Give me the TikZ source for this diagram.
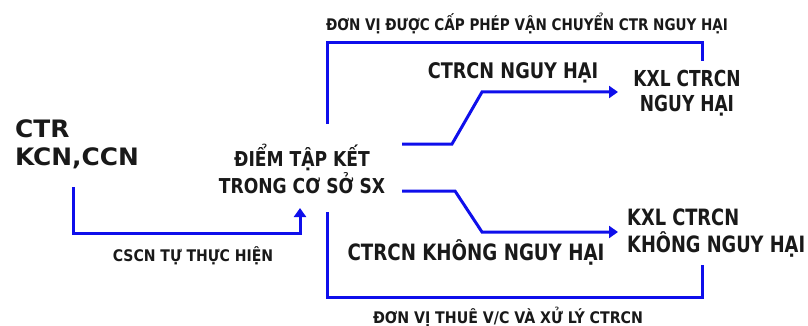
\documentclass[tikz,border=0pt]{standalone}
\usepackage{fontspec}
\setmainfont{DejaVu Sans Condensed}
\usetikzlibrary{arrows.meta}
\definecolor{lineblue}{RGB}{15,15,235}
\definecolor{txt}{RGB}{25,25,25}
\newcommand{\txtfont}[3]{\bfseries\fontsize{#1}{#2}\selectfont\addfontfeature{FakeStretch=#3}}
\tikzset{
  conn/.style={draw=lineblue, line width=3pt, line join=miter},
  arr/.style={conn, -{Triangle[width=12pt,length=9pt]}},
  lbl/.style={inner sep=0pt, text=txt},
}
\begin{document}
\begin{tikzpicture}[x=1pt,y=-1pt]
\useasboundingbox (0,0) rectangle (808,326);
% nodes (base = baseline of last line)
\node[lbl, anchor=base west, align=left, font=\txtfont{24}{28}{1.15}] (src) at (15,165) {CTR\\KCN,CCN};
\node[lbl, anchor=base, align=center, font=\txtfont{20.5}{25}{0.93}] (mid) at (302,193) {ĐIỂM TẬP KẾT\\TRONG CƠ SỞ SX};
\node[lbl, anchor=base, align=center, font=\txtfont{22}{25}{0.86}] (haz) at (687,112) {KXL CTRCN\\NGUY HẠI};
\node[lbl, anchor=base west, align=left, font=\txtfont{22.5}{27}{0.88}] (nonhaz) at (627,252) {KXL CTRCN\\KHÔNG NGUY HẠI};
\node[lbl, anchor=base, font=\txtfont{21.5}{25}{0.915}] (lhaz) at (513,79) {CTRCN NGUY HẠI};
\node[lbl, anchor=base, font=\txtfont{22.5}{25}{0.90}] (lnon) at (476,260) {CTRCN KHÔNG NGUY HẠI};
\node[lbl, anchor=base, font=\txtfont{16}{18}{0.94}] (ltop) at (527,31) {ĐƠN VỊ ĐƯỢC CẤP PHÉP VẬN CHUYỂN CTR NGUY HẠI};
\node[lbl, anchor=base, font=\txtfont{16}{18}{0.985}] (lbot) at (508,323) {ĐƠN VỊ THUÊ V/C VÀ XỬ LÝ CTRCN};
\node[lbl, anchor=base, font=\txtfont{16}{18}{0.975}] (lself) at (193,261) {CSCN TỰ THỰC HIỆN};
% connector end points
\coordinate (srcout) at (73,187);
\coordinate (midin) at (300,208);
\coordinate (midtop) at (327,124);
\coordinate (midbot) at (327,212);
\coordinate (hazend) at (702,61);
\coordinate (nonend) at (702,265);
\coordinate (midr1) at (402,144);
\coordinate (midr2) at (402,191);
\coordinate (hazin) at (618,92);
\coordinate (nonin) at (618,232);
% connectors
\draw[arr] (srcout) -- ++(0,46) -| (midin);
\draw[conn] (midtop) -- ++(0,-81) -| (hazend);
\draw[conn] (midbot) -- ++(0,85) -| (nonend);
\draw[arr] (midr1) -- (452,144) -- (482,92) -- (hazin);
\draw[arr] (midr2) -- (455,191) -- (482,232) -- (nonin);
\end{tikzpicture}
\end{document}
